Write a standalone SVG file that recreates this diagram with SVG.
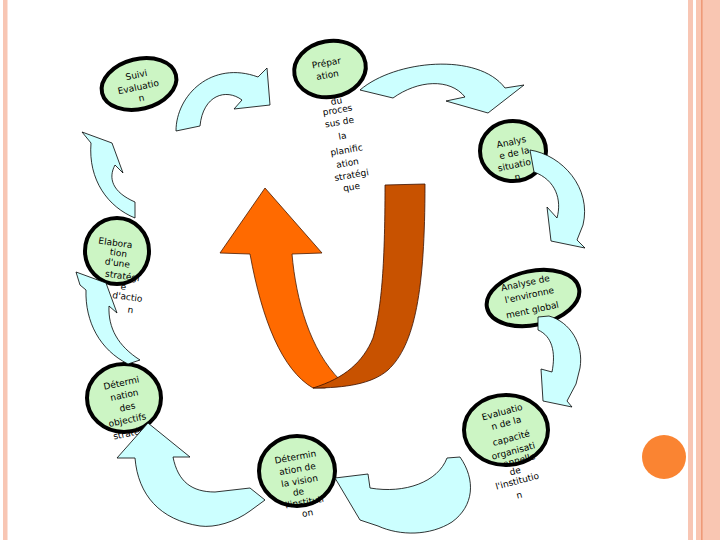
<svg xmlns="http://www.w3.org/2000/svg" width="720" height="540" viewBox="0 0 720 540">
<style>
.node{fill:#ccf5c4;stroke:#000;stroke-width:4}
.t{font-family:"DejaVu Sans",sans-serif;font-size:9px;fill:#000;text-anchor:middle}
.cy{fill:#ccffff;stroke:#000;stroke-width:0.8;stroke-linejoin:miter}
.or{fill:#ff6a00;stroke:#4a1a00;stroke-width:0.8}
.dk{fill:#c85200;stroke:#3a1000;stroke-width:0.8}
</style>
<rect x="0" y="0" width="720" height="540" fill="#fff"/>
<rect x="3" y="0" width="4.5" height="540" fill="#f8c6b4"/>
<rect x="688" y="0" width="5" height="540" fill="#f8c6b4"/>
<rect x="696" y="0" width="24" height="540" fill="#f9c6b2"/>
<rect x="701" y="0" width="1.6" height="540" fill="#ee9a78"/>
<circle cx="664" cy="457" r="22" fill="#fa8432"/>

<g id="n-suivi">
<ellipse class="node" cx="139" cy="84" rx="38" ry="25" transform="rotate(-14 139 84)"/>
<text class="t" x="137" y="78" transform="rotate(-12 137 78)">Suivi</text>
<text class="t" x="139" y="90" transform="rotate(-12 139 90)">Evaluatio</text>
<text class="t" x="142" y="101" transform="rotate(-12 142 101)">n</text>
</g>
<g id="n-preparation">
<ellipse class="node" cx="330" cy="69" rx="36" ry="28" transform="rotate(-10 330 69)"/>
<text class="t" x="327" y="66" transform="rotate(-10 327 66)">Prépar</text>
<text class="t" x="328" y="78" transform="rotate(-10 328 78)">ation</text>
<text class="t" x="337" y="104" transform="rotate(-10 337 104)">du</text>
<text class="t" x="338" y="113" transform="rotate(-10 338 113)">proces</text>
<text class="t" x="340" y="125" transform="rotate(-10 340 125)">sus de</text>
<text class="t" x="343" y="139" transform="rotate(-10 343 139)">la</text>
<text class="t" x="347" y="153" transform="rotate(-10 347 153)">planific</text>
<text class="t" x="348" y="166" transform="rotate(-10 348 166)">ation</text>
<text class="t" x="352" y="178" transform="rotate(-10 352 178)">stratégi</text>
<text class="t" x="352" y="190" transform="rotate(-10 352 190)">que</text>
</g>
<g id="n-analyse-situation">
<ellipse class="node" cx="513" cy="151" rx="33" ry="30"/>
<text class="t" x="512" y="145" transform="rotate(-12 512 145)">Analys</text>
<text class="t" x="515" y="156" transform="rotate(-12 515 156)">e de la</text>
<text class="t" x="515" y="168" transform="rotate(-12 515 168)">situatio</text>
<text class="t" x="518" y="180" transform="rotate(-12 518 180)">n</text>
</g>
<g id="n-environnement">
<ellipse class="node" cx="533" cy="298" rx="47" ry="27" transform="rotate(-12 533 298)"/>
<text class="t" x="526" y="286" transform="rotate(-12 526 286)">Analyse de</text>
<text class="t" x="530" y="298" transform="rotate(-12 530 298)">l'environne</text>
<text class="t" x="533" y="313" transform="rotate(-12 533 313)">ment global</text>
</g>
<g id="n-evaluation">
<ellipse class="node" cx="506" cy="430" rx="42" ry="35"/>
<text class="t" x="503" y="415" transform="rotate(-15 503 415)">Evaluatio</text>
<text class="t" x="507" y="426" transform="rotate(-15 507 426)">n de la</text>
<text class="t" x="512" y="441" transform="rotate(-15 512 441)">capacité</text>
<text class="t" x="514" y="454" transform="rotate(-15 514 454)">organisati</text>
<text class="t" x="520" y="463" transform="rotate(-15 520 463)">onnelle</text>
<text class="t" x="516" y="474" transform="rotate(-15 516 474)">de</text>
<text class="t" x="518" y="484" transform="rotate(-15 518 484)">l'institutio</text>
<text class="t" x="520" y="498" transform="rotate(-15 520 498)">n</text>
</g>
<g id="n-vision">
<ellipse class="node" cx="297" cy="471" rx="38" ry="35"/>
<text class="t" x="296" y="460" transform="rotate(-10 296 460)">Détermin</text>
<text class="t" x="298" y="472" transform="rotate(-10 298 472)">ation de</text>
<text class="t" x="300" y="484" transform="rotate(-10 300 484)">la vision</text>
<text class="t" x="299" y="495" transform="rotate(-10 299 495)">de</text>
<text class="t" x="305" y="505" transform="rotate(-10 305 505)">l'instituti</text>
<text class="t" x="308" y="516" transform="rotate(-10 308 516)">on</text>
</g>
<g id="n-objectifs">
<ellipse class="node" cx="124" cy="398" rx="37" ry="34"/>
<text class="t" x="122" y="386" transform="rotate(-12 122 386)">Détermi</text>
<text class="t" x="125" y="398" transform="rotate(-12 125 398)">nation</text>
<text class="t" x="128" y="410" transform="rotate(-12 128 410)">des</text>
<text class="t" x="128" y="423" transform="rotate(-12 128 423)">objectifs</text>
<text class="t" x="131" y="436" transform="rotate(-12 131 436)">stratégi</text>
<text class="t" x="137" y="448" transform="rotate(-12 137 448)">que</text>
</g>
<g id="n-elaboration">
<ellipse class="node" cx="117" cy="251" rx="32" ry="33"/>
<text class="t" x="115" y="246" transform="rotate(8 115 246)">Elabora</text>
<text class="t" x="118" y="256" transform="rotate(8 118 256)">tion</text>
<text class="t" x="117" y="266" transform="rotate(8 117 266)">d'une</text>
<text class="t" x="122" y="279" transform="rotate(8 122 279)">stratégi</text>
<text class="t" x="123" y="290" transform="rotate(8 123 290)">e</text>
<text class="t" x="127" y="300" transform="rotate(8 127 300)">d'actio</text>
<text class="t" x="130" y="313" transform="rotate(8 130 313)">n</text>
</g>

<g id="connectors">
<path class="cy" d="M176,131 C176,95 212,60 258,77 L267,68 L270,105 L234,109 L242,100 C226,88 203,95 200,126 Z"/>
<path class="cy" d="M360,90 C395,60 478,52 505,88 L524,85 L488,113 L446,101 L465,97 C450,78 418,80 393,98 Z"/>
<path class="cy" d="M530,150 C562,155 592,188 583,225 L577,240 L585,248 L551,241 L547,207 L557,218 C562,200 556,180 534,172 Z"/>
<path class="cy" d="M538,317 L549,316 C570,322 584,344 580,368 L576,384 L567,401 L572,407 L543,401 L541,369 L552,372 C556,352 552,336 538,330 Z"/>
<path class="cy" d="M335,478 L368,474 L370,488 C405,494 438,482 447,458 L460,457 C476,480 474,506 452,522 C430,536 400,536 378,526 L360,520 Z"/>
<path class="cy" d="M148,423 L190,457 L173,457 C178,482 192,492 215,492 L250,488 L265,500 L250,511 C235,522 215,528 200,526 C160,520 138,495 135,458 L117,458 Z"/>
<path class="cy" d="M82,132 L112,143 L123,173 L115,165 C108,178 112,192 135,202 L135,218 C108,207 88,180 91,143 Z"/>
<path class="cy" d="M76,272 L106,283 L117,313 L109,306 C108,328 118,346 140,360 L128,364 C100,350 85,322 86,290 L80,285 Z"/>
<path class="or" d="M265,188 L322,253 L292,254 C296,300 310,350 340,380 L325,388 L313,388 C282,370 262,320 250,254 L220,253 Z"/>
<path class="dk" d="M385,185 L425,184 C425,290 415,345 388,370 C372,384 345,388 313,388 C345,378 363,362 373,338 C381,310 385,270 385,185 Z"/>
</g>
</svg>
